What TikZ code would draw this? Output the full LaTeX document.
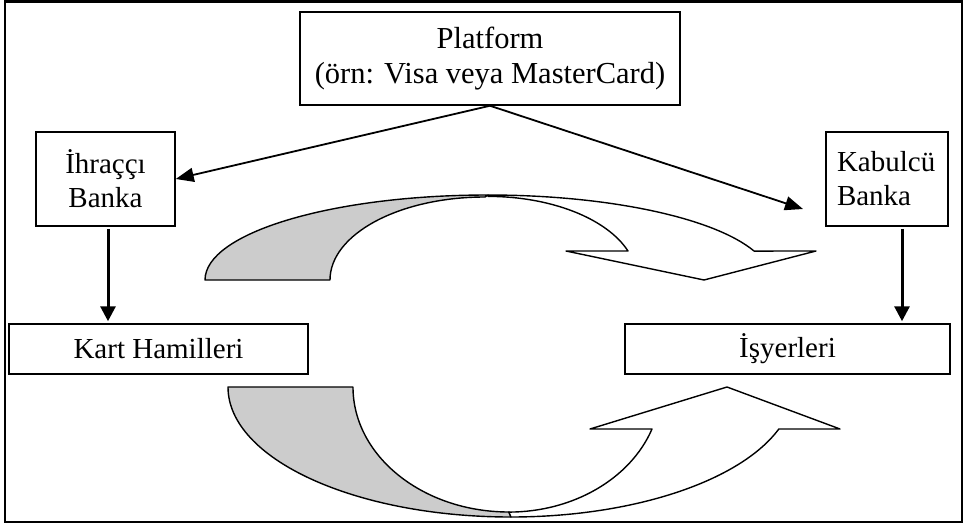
\documentclass[tikz,border=0pt]{standalone}
\usepackage{fontspec}
\setmainfont{Liberation Serif}
\usetikzlibrary{arrows.meta,calc}
\begin{document}
\begin{tikzpicture}[x=1pt,y=-1pt,
  box/.style={draw,line width=1.5pt,inner sep=0pt,font=\fontsize{29}{34}\selectfont,align=center},
  thinarrow/.style={line width=1.8pt,-{Triangle[length=18pt,width=14pt]}},
  thickarrow/.style={line width=3pt,-{Triangle[length=15pt,width=15pt]}},
  curvline/.style={line width=1.4pt,line join=round},
  backfill/.style={fill=black!20},
  frontfill/.style={fill=white}]
\useasboundingbox (0,0) rectangle (965,524);
\draw[line width=2.2pt] (5,1.5) rectangle (962,522);

\node[box,minimum width=380pt,minimum height=93pt,font=\fontsize{30.5}{35}\selectfont] (plat) at (490,58.5) {Platform\\(örn: Visa veya MasterCard)};
\node[box,minimum width=139pt,minimum height=94pt] (ihr) at (105.5,179) {İhraççı\\Banka};
\node[box,minimum width=122pt,minimum height=94pt,text width=100pt,inner xsep=11pt,align=left] (kab) at (887,179) {Kabulcü\\Banka};
\node[box,minimum width=299pt,minimum height=50pt] (kart) at (158.5,349) {Kart Hamilleri};
\node[box,minimum width=325pt,minimum height=50pt] (isy) at (787.5,349) {İşyerleri};

\coordinate (kabtip) at (803,209);
\draw[thinarrow] (plat.south) -- (ihr.east);
\draw[thinarrow] (plat.south) -- (kabtip);
\draw[thickarrow,shorten <=2pt,shorten >=2pt] ([xshift=2.5pt]ihr.south) -- ([xshift=2.5pt]ihr.south |- kart.north);
\draw[thickarrow,shorten <=2pt,shorten >=2pt] ([xshift=15pt]kab.south) -- ([xshift=15pt]kab.south |- isy.north);

% upper curved arrow
\draw[curvline,backfill] (205,280) arc[start angle=180,end angle=270,x radius=283,y radius=85]
  -- (485,197) arc[start angle=270,end angle=180,x radius=155,y radius=83] -- cycle;
\draw[curvline,frontfill] (488,195) arc[start angle=270,end angle=340.1,x radius=283,y radius=85]
  -- (816,251) -- (704,280) -- (566,251) -- (628,251)
  arc[start angle=340,end angle=270,x radius=149,y radius=83] -- cycle;

% lower curved arrow
\draw[curvline,backfill] (228,387) arc[start angle=180,end angle=90,x radius=283,y radius=130]
  -- (509,512) arc[start angle=90,end angle=180,x radius=156,y radius=125] -- cycle;
\draw[curvline,frontfill] (511,517) arc[start angle=90,end angle=18.85,x radius=283,y radius=130]
  -- (840,429) -- (727,387) -- (590,429) -- (652,429)
  arc[start angle=19.6,end angle=90,x radius=152,y radius=125] -- cycle;
\end{tikzpicture}
\end{document}
